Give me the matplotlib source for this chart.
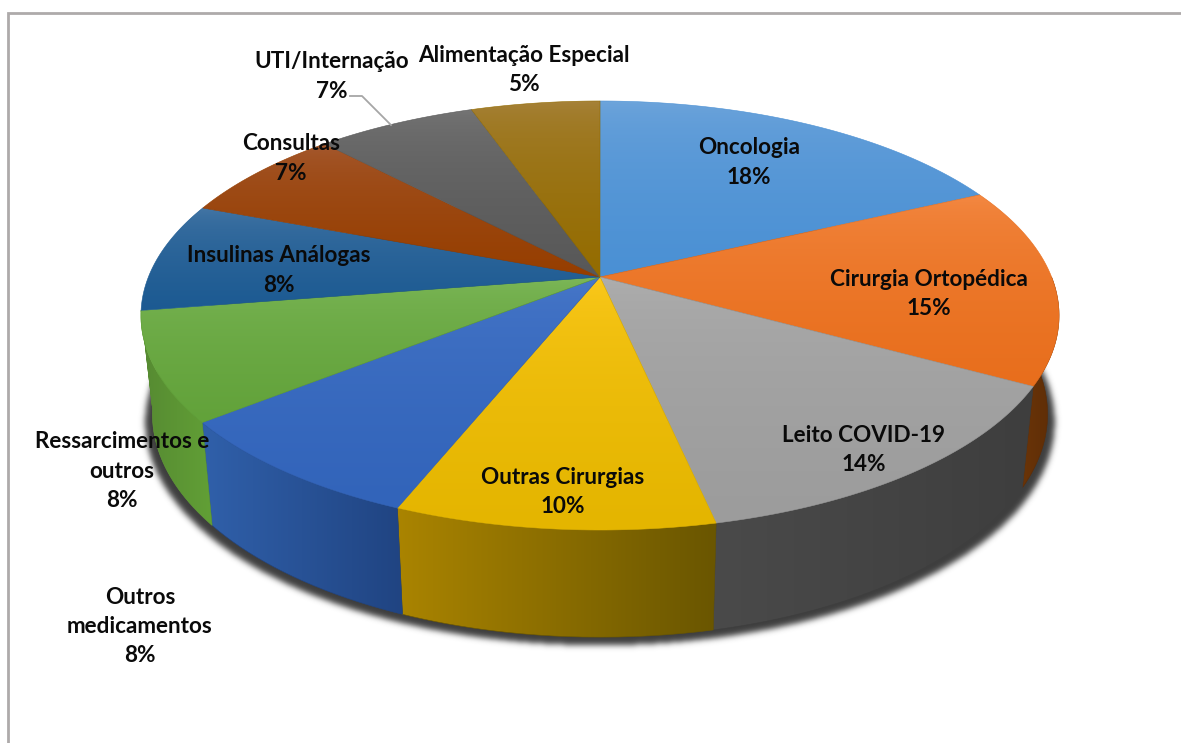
import numpy as np
import matplotlib
matplotlib.use("Agg")
import matplotlib.pyplot as plt
from matplotlib.path import Path
from matplotlib.patches import PathPatch

categories = ["Oncologia", "Cirurgia Ortopédica", "Leito COVID-19", "Outras Cirurgias",
              "Outros\nmedicamentos", "Ressarcimentos e\noutros", "Insulinas Análogas",
              "Consultas", "UTI/Internação", "Alimentação Especial"]
values = [18.0, 15.0, 13.6, 9.5, 8.2, 8.2, 8.25, 7.15, 6.7, 5.4]

# top of the slice: colour at upper edge, colour at lower edge
top_hi = ["#72a7dc", "#f58c48", "#b0b0b0", "#ffcc20", "#4a7acb", "#80ba5c", "#4a7aa8", "#a85e38", "#787878", "#a88440"]
top_lo = ["#4a90d4", "#e86e1c", "#9c9c9c", "#e4b500", "#3264ba", "#62a23a", "#1c5a92", "#963e00", "#585858", "#946c00"]
# side of the slice: colour at left, colour at right
side_l = ["#5a2c08", "#6a3408", "#4a4a4a", "#aa8400", "#3060aa", "#568a32", "#568a32", "#888888", "#888888", "#888888"]
side_r = ["#5a2c08", "#5c2c06", "#3e3e3e", "#6a5600", "#204482", "#62a036", "#568a32", "#888888", "#888888", "#888888"]

label_x = [749, 929, 864, 563, 140, 122, 279, 291, 332, 524]
label_y = [148, 279, 435, 477, 597, 442, 256, 144, 62, 55]

# pie geometry in pixels
cx, cy = 600, 277
a, b, k = 451.6, 207.6, 0.1795
side_sx, side_sy, side_dy = 0.975, 1.04, 86


def top_xy(t):
    s, c = np.sin(t), np.cos(t)
    d = 1 + k * c
    return np.column_stack([cx + a * s / d, cy - b * c / d])


def side_xy(t):
    p = top_xy(t)
    return np.column_stack([cx + side_sx * (p[:, 0] - cx), side_sy * p[:, 1] + side_dy])


def gradient(ax, verts, c1, c2, horizontal, zorder):
    verts = np.vstack([verts, verts[0]])
    patch = PathPatch(Path(verts), fc="none", ec="none", transform=ax.transData)
    ax.add_patch(patch)
    x0, x1 = verts[:, 0].min(), verts[:, 0].max()
    y0, y1 = verts[:, 1].min(), verts[:, 1].max()
    f = np.linspace(0, 1, 128)
    if not horizontal:
        f = f ** 0.45
    rgb = [(1 - u) * np.array(matplotlib.colors.to_rgb(c1)) + u * np.array(matplotlib.colors.to_rgb(c2)) for u in f]
    img = np.array(rgb)[np.newaxis, :, :] if horizontal else np.array(rgb)[:, np.newaxis, :]
    im = ax.imshow(img, extent=(x0, x1, y1, y0), origin="upper", aspect="auto",
                   interpolation="bilinear", zorder=zorder)
    im.set_clip_path(patch)
    # thin edge in the lower colour hides the jagged clip
    ax.add_patch(PathPatch(Path(verts), fc="none", ec=c2, lw=0.4, zorder=zorder))


fig = plt.figure(figsize=(11.81, 7.43), dpi=100)
ax = fig.add_axes([0, 0, 1, 1])
ax.set_xlim(0, 1181)
ax.set_ylim(743, 0)
ax.axis("off")

# chart frame
ax.plot([8, 8, 1181], [743, 13, 13], color="#aeaaaa", lw=2, solid_joinstyle="miter", zorder=1)

# soft shadow under the side
full = np.linspace(0, 2 * np.pi, 360)
sh = side_xy(full)
sh[:, 0] = cx + 1.016 * (sh[:, 0] - cx)
sh[:, 1] += 8
gx, gy = np.meshgrid(np.arange(1181) + 0.5, np.arange(743) + 0.5)
mask = Path(sh).contains_points(np.column_stack([gx.ravel(), gy.ravel()])).reshape(gx.shape).astype(float)
kern = np.exp(-np.arange(-12, 13) ** 2 / (2 * 3.0 ** 2))
kern /= kern.sum()
mask = np.apply_along_axis(lambda r: np.convolve(r, kern, mode="same"), 0, mask)
mask = np.apply_along_axis(lambda r: np.convolve(r, kern, mode="same"), 1, mask)
shadow = np.zeros(mask.shape + (4,))
shadow[..., :3] = 0.2
shadow[..., 3] = mask * 0.95
ax.imshow(shadow, extent=(0, 1181, 743, 0), aspect="auto", interpolation="nearest", zorder=2)

ends = np.cumsum(values) / np.sum(values) * 2 * np.pi
starts = np.concatenate([[0], ends[:-1]])

# sides first, only the front part of the rim shows
rim_lo, rim_hi = np.radians(90), np.radians(261)
for i in range(len(values)):
    t0, t1 = max(starts[i], rim_lo), min(ends[i], rim_hi)
    if t0 >= t1:
        continue
    t = np.linspace(t0, t1, 80)
    gradient(ax, np.vstack([top_xy(t), side_xy(t)[::-1]]), side_l[i], side_r[i], True, 3)

# top faces
for i in range(len(values)):
    t = np.linspace(starts[i], ends[i], 120)
    verts = np.vstack([[[cx, cy]], top_xy(t)])
    gradient(ax, verts, top_hi[i], top_lo[i], False, 4)

# leader of the UTI label
ax.plot([350, 362, 391], [96, 96, 125], color="#a6a6a6", lw=1.3, zorder=5)

for name, val, x, y in zip(categories, values, label_x, label_y):
    lines = name.split("\n") + ["%.0f%%" % val]
    for j, line in enumerate(lines):
        ax.text(x, y + j * 29.3, line, ha="center", va="center", fontsize=16.2,
                fontweight="bold", family="Lato", color="#0a0a0a", zorder=6)

fig.savefig("out.png", dpi=100)
